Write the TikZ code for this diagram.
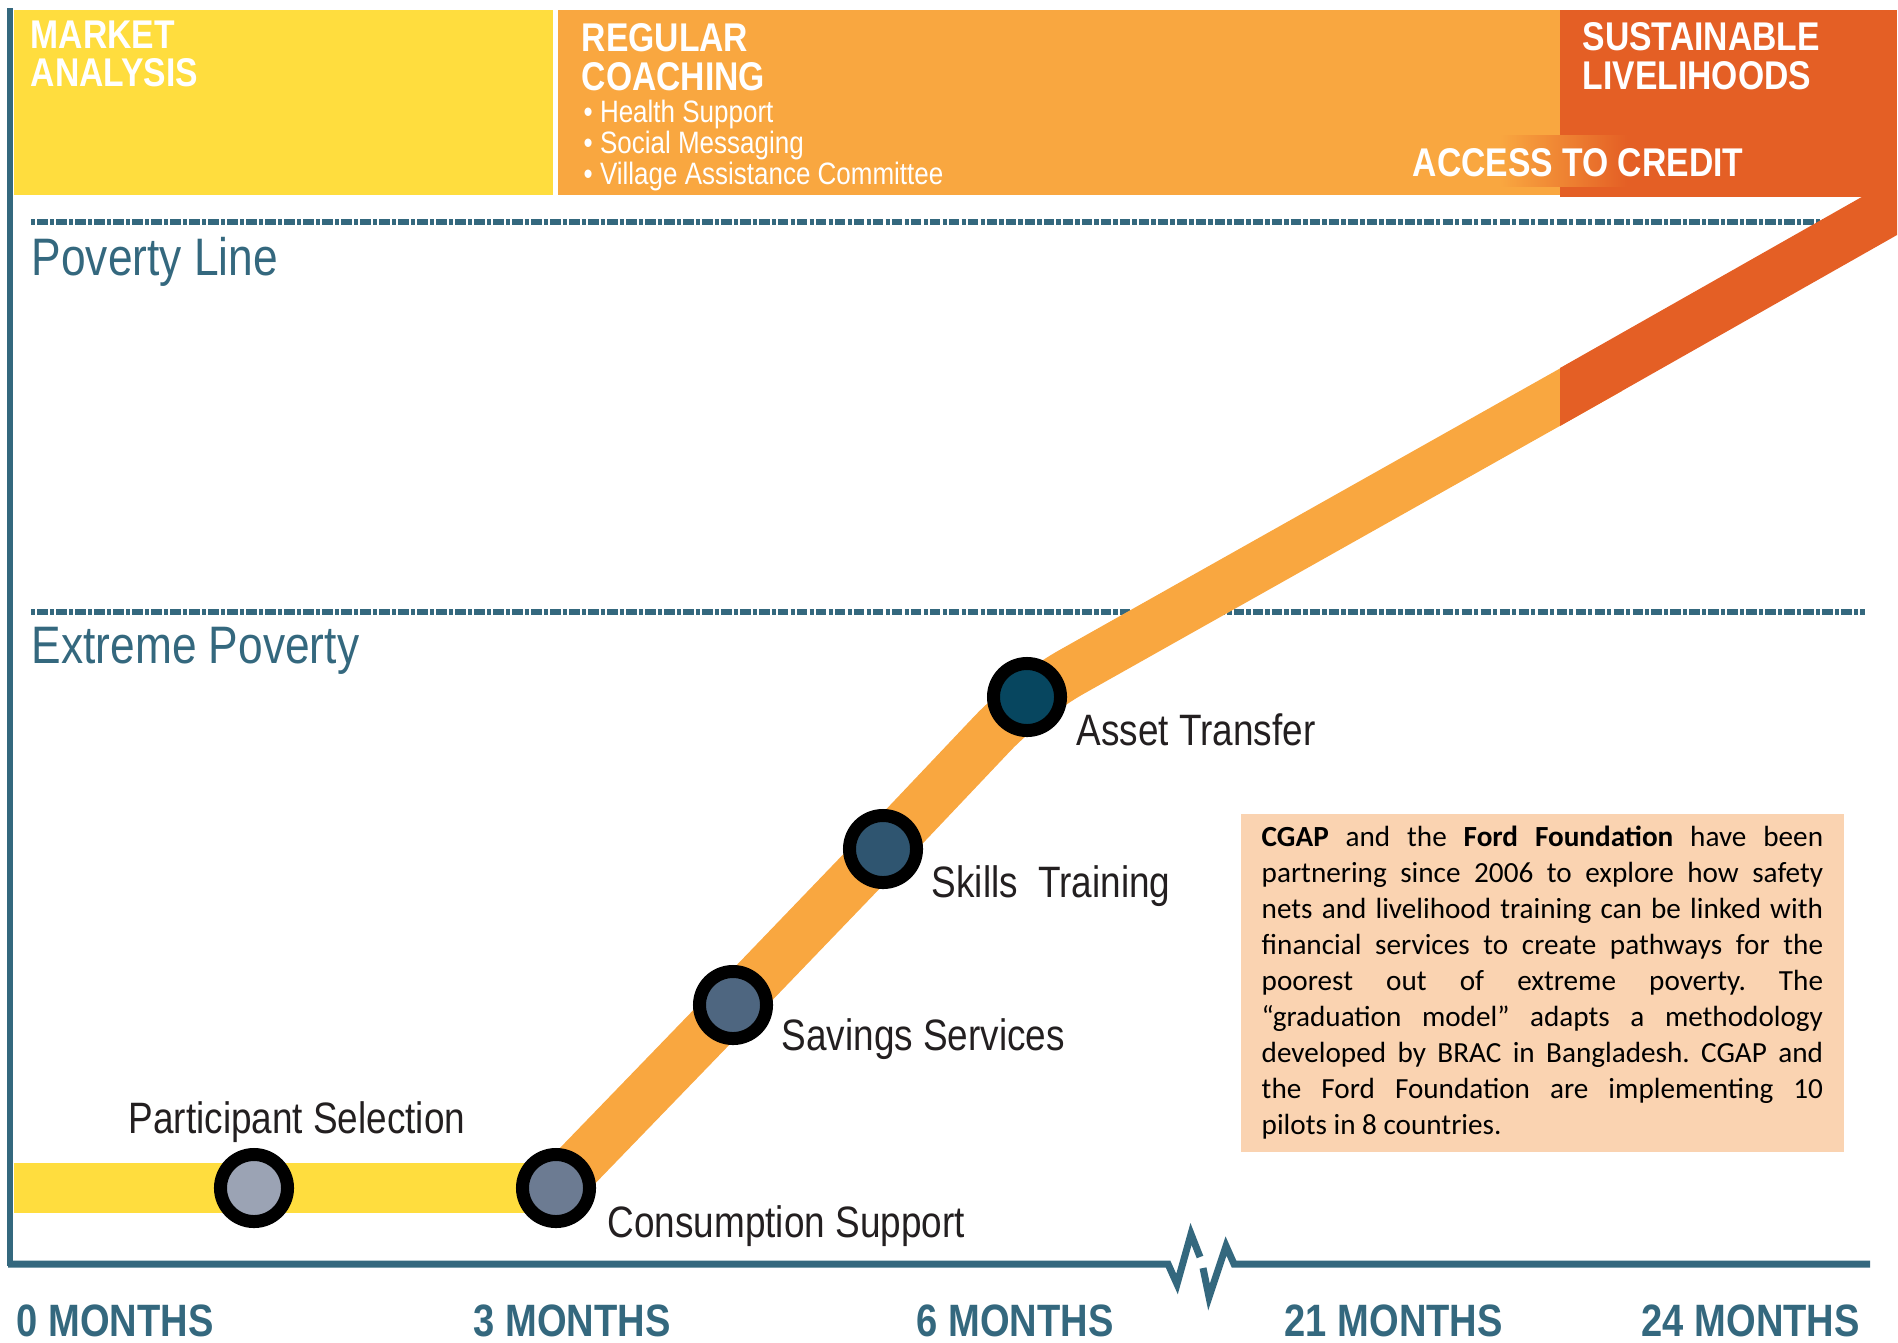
\documentclass[tikz,border=0pt]{standalone}
\usepackage{fontspec}
\setmainfont{Liberation Sans}
\newfontfamily\narrowsf[FakeStretch=0.84]{Liberation Sans}
\newfontfamily\notefont{Carlito}
\frenchspacing
\pgfdeclarelayer{back}
\pgfdeclarelayer{mid}
\pgfsetlayers{back,mid,main}

\definecolor{pathyellow}{RGB}{255,221,62}
\definecolor{pathorange}{RGB}{249,167,64}
\definecolor{pathred}{RGB}{228,95,37}
\definecolor{axisteal}{RGB}{52,104,126}
\definecolor{notepeach}{RGB}{250,211,177}
\definecolor{labelgrey}{RGB}{35,31,32}
\definecolor{stepA}{RGB}{155,163,180}
\definecolor{stepB}{RGB}{108,123,146}
\definecolor{stepC}{RGB}{78,102,128}
\definecolor{stepD}{RGB}{47,85,112}
\definecolor{stepE}{RGB}{7,70,95}

\tikzset{
  phase/.style={font=\narrowsf\bfseries\fontsize{11.4pt}{10.9pt}\selectfont, text=white, anchor=north west, inner sep=0pt, align=left},
  level/.style={font=\narrowsf\fontsize{15pt}{15pt}\selectfont, text=axisteal, anchor=base west, inner sep=0pt},
  stepdot/.style={circle, draw=black, line width=0.13cm, minimum size=0.67cm, inner sep=0pt},
  steplabel/.style={font=\narrowsf\fontsize{12.5pt}{12.5pt}\selectfont, text=labelgrey, anchor=base west, inner sep=0pt},
  month/.style={font=\narrowsf\bfseries\fontsize{12.9pt}{12.9pt}\selectfont, text=axisteal, anchor=base west, inner sep=0pt},
  povline/.style={axisteal, line width=0.06cm, dash pattern=on 1.2pt off 0.6pt on 3pt off 0.6pt},
  band/.style={line width=0.5cm},
}

\begin{document}
\begin{tikzpicture}[x=0.01cm,y=-0.01cm]
\useasboundingbox (0,0) rectangle (1898,1342);

% milestones
\node[stepdot, fill=stepA] (sel) at (254,1188) {};
\node[stepdot, fill=stepB] (cons) at (556,1188) {};
\node[stepdot, fill=stepC] (sav) at (733,1005) {};
\node[stepdot, fill=stepD] (skl) at (883,849) {};
\node[stepdot, fill=stepE] (ast) at (1027,697) {};
\coordinate (start) at (14,1188);
\coordinate (bend) at (1610,369);

\begin{pgfonlayer}{back}
  \fill[pathyellow] (14,10) rectangle (553,195);
  \fill[pathorange] (558,10) rectangle (1560,195);
  \fill[pathred] (1560,10) rectangle (1897,197);
  \draw[povline] (31,222) -- (1845,222); % poverty line
  \draw[povline] (31,612) -- (1865,612);
\end{pgfonlayer}

\begin{pgfonlayer}{mid}
  \draw[band, pathyellow] (start) -- (sel.center) -- (cons.center);
  \draw[band, pathorange, rounded corners=0.5cm] (cons.center) -- (sav.center) -- (skl.center) -- (ast.center) -- (bend);
  \fill[pathred] (1560,368) -- (1874,190) -- (1897,190) -- (1897,235) -- (1560,426) -- cycle;
\end{pgfonlayer}

% phase headings
\node[phase] (mkt) at (30,20) {MARKET\\ANALYSIS};
\node[phase] (coach) at (581,23) {REGULAR\\COACHING};
\node[phase, font=\narrowsf\fontsize{8.8pt}{8.8pt}\selectfont] (coachlist) at (583,99) {• Health Support\\• Social Messaging\\• Village Assistance Committee};
\node[phase] (sust) at (1582,22) {SUSTAINABLE\\LIVELIHOODS};
\shade[left color=pathorange, right color=pathred] (1500,135) rectangle (1627,186);
\node[phase, anchor=base west] (credit) at (1412,176) {ACCESS TO CREDIT};

\node[level] (povlbl) at (31,275) {Poverty Line};
\node[level] (extlbl) at (31,663) {Extreme Poverty};

\node[steplabel] (sellbl) at (128,1133) {Participant Selection};
\node[steplabel] (conslbl) at (607,1237) {Consumption Support};
\node[steplabel] (savlbl) at (781,1050) {Savings Services};
\node[steplabel] (skllbl) at (931,897) {Skills~~Training};
\node[steplabel] (astlbl) at (1076,745) {Asset Transfer};

\node[fill=notepeach, anchor=north west, text width=5.61cm, inner xsep=0.21cm, minimum height=3.38cm, align=justify,
      font=\notefont\fontsize{8.3pt}{10.25pt}\selectfont] (note) at (1240,813)
  {\textbf{CGAP} and the \textbf{Ford Foundation} have been\linebreak
   partnering since 2006 to explore how safety\linebreak
   nets and livelihood training can be linked with\linebreak
   financial services to create pathways for the\linebreak
   poorest out of extreme poverty. The\linebreak
   “graduation model” adapts a methodology\linebreak
   developed by BRAC in Bangladesh. CGAP and\linebreak
   the Ford Foundation are implementing 10\linebreak
   pilots in 8 countries.};

% axes
\draw[axisteal, line width=0.05cm] (10,8) -- (10,1266);
\draw[axisteal, line width=0.07cm] (8,1264) -- (1168,1264) -- (1177,1284) -- (1191,1234) -- (1200,1257);
\draw[axisteal, line width=0.07cm] (1203,1268) -- (1209,1297) -- (1226,1246) -- (1234,1264) -- (1870,1264);

\node[month] (m0) at (16,1336) {0 MONTHS};
\node[month] (m3) at (473,1336) {3 MONTHS};
\node[month] (m6) at (916,1336) {6 MONTHS};
\node[month] (m21) at (1284,1336) {21 MONTHS};
\node[month] (m24) at (1641,1336) {24 MONTHS};
\end{tikzpicture}
\end{document}
